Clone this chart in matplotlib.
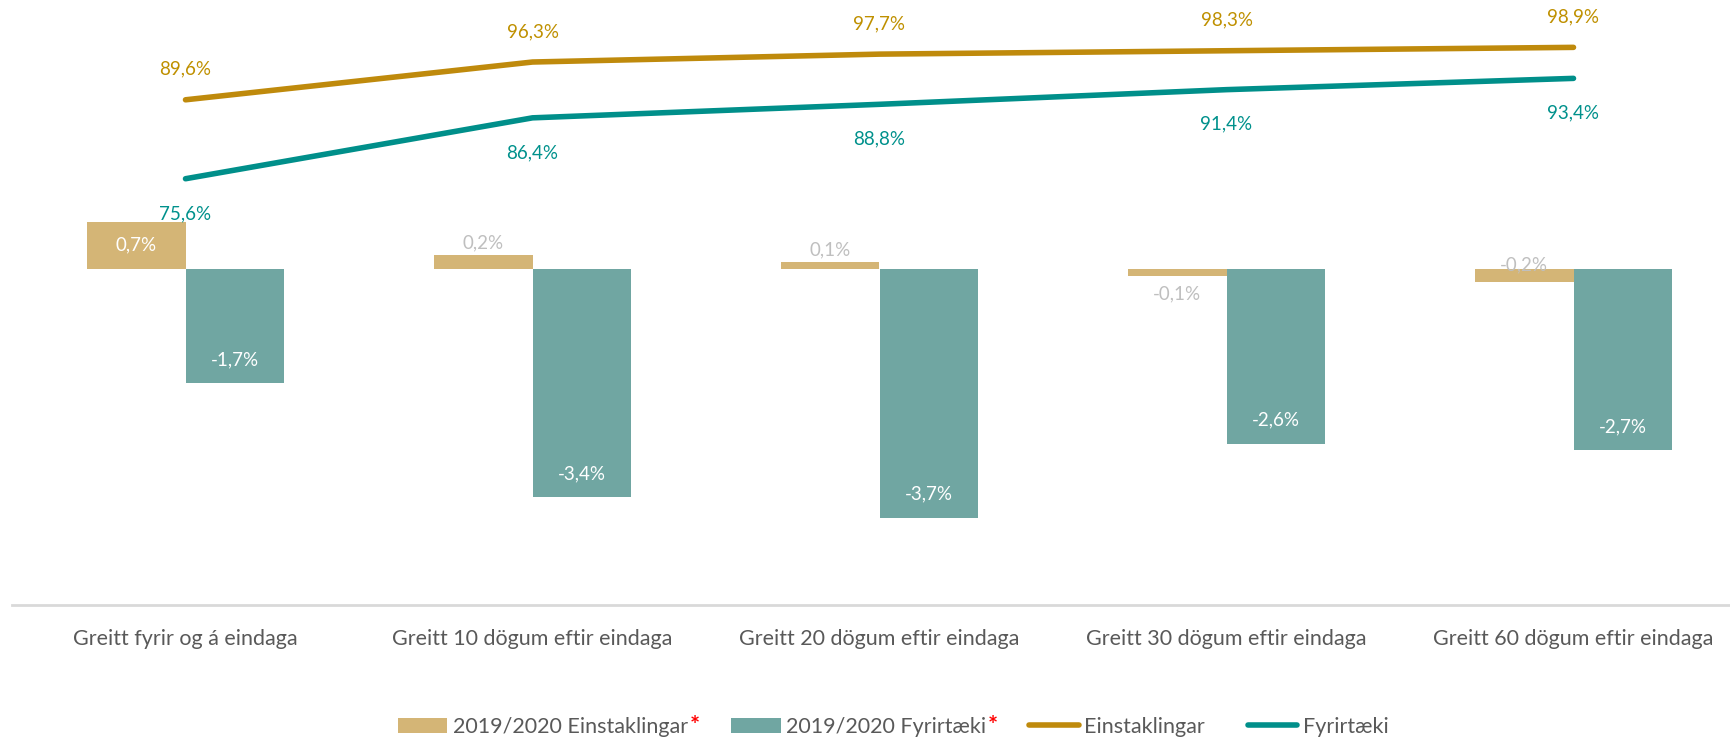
import numpy as np
import matplotlib
matplotlib.use('Agg')
import matplotlib.pyplot as plt

# data
categories = ['Greitt fyrir og á eindaga', 'Greitt 10 dögum eftir eindaga',
              'Greitt 20 dögum eftir eindaga', 'Greitt 30 dögum eftir eindaga',
              'Greitt 60 dögum eftir eindaga']
chg_einst = [0.007, 0.002, 0.001, -0.001, -0.002]
chg_fyrir = [-0.017, -0.034, -0.037, -0.026, -0.027]
einst = [0.896, 0.963, 0.977, 0.983, 0.989]
fyrir = [0.756, 0.864, 0.888, 0.914, 0.934]

bar_gold = '#D4B576'
bar_teal = '#70A6A2'
line_gold = '#BF8A0C'
line_teal = '#008F8A'
lab_gold = '#BF9000'
lab_teal = '#00918C'
grey_lab = '#BFBFBF'
txt = '#595959'

plt.rcParams['font.family'] = ['Lato', 'DejaVu Sans']

def pct(v):
    return f'{v*100:.1f}%'.replace('.', ',')

fig = plt.figure(figsize=(17.31, 7.38), dpi=100)
ax = fig.add_axes([12/1731, 133/738, 1735/1731, 605/738])
ax2 = ax.twinx()

x = np.arange(len(categories))
w = 0.285
ax.bar(x - w/2, chg_einst, width=w, color=bar_gold, label='2019/2020 Einstaklingar')
ax.bar(x + w/2, chg_fyrir, width=w, color=bar_teal, label='2019/2020 Fyrirtæki')
ax.set_ylim(-0.05, 0.04)
ax.set_xlim(-0.5, len(categories) - 0.5)

ax2.plot(x, einst, color=line_gold, lw=4, solid_capstyle='round', label='Einstaklingar')
ax2.plot(x, fyrir, color=line_teal, lw=4, solid_capstyle='round', label='Fyrirtæki')
ax2.set_ylim(0, 1.073)

for a in (ax, ax2):
    for s in ('top', 'left', 'right'):
        a.spines[s].set_visible(False)
    a.set_yticks([])
ax2.spines['bottom'].set_visible(False)
ax.spines['bottom'].set_color('#D9D9D9')
ax.spines['bottom'].set_linewidth(2)
ax.set_xticks(x)
ax.set_xticklabels(categories, fontsize=15.5, color=txt)
ax.tick_params(axis='x', length=0, pad=17)

fs = 13.5
# bar labels: gold
gold_off = [(0, 0), (0, 9), (0, 9), (0, -18), (0, 3)]
for i, v in enumerate(chg_einst):
    if i == 0:
        ax.text(x[i] - w/2, v/2, pct(v), ha='center', va='center', color='white', fontsize=fs)
    else:
        ax.annotate(pct(v), (x[i] - w/2, max(v, 0)), xytext=gold_off[i], textcoords='offset points',
                    ha='center', va='center', color=grey_lab, fontsize=fs)
for i, v in enumerate(chg_fyrir):
    ax.annotate(pct(v), (x[i] + w/2, v), xytext=(0, 17), textcoords='offset points',
                ha='center', va='center', color='white', fontsize=fs)

# line labels
for i, v in enumerate(einst):
    ax2.annotate(pct(v), (x[i], v), xytext=(0, 22), textcoords='offset points',
                 ha='center', va='center', color=lab_gold, fontsize=fs)
for i, v in enumerate(fyrir):
    ax2.annotate(pct(v), (x[i], v), xytext=(0, -25), textcoords='offset points',
                 ha='center', va='center', color=lab_teal, fontsize=fs)

h1, l1 = ax.get_legend_handles_labels()
h2, l2 = ax2.get_legend_handles_labels()
leg = fig.legend(h1 + h2, l1 + l2, loc='center', bbox_to_anchor=(0.516, 0.015), ncol=4,
                 frameon=False, fontsize=15.5, handlelength=2.3, handletextpad=0.25,
                 columnspacing=2.0, labelcolor=txt)

# red asterisks after the two bar entries
fig.canvas.draw()
r = fig.canvas.get_renderer()
for t in leg.get_texts()[:2]:
    bb = t.get_window_extent(r)
    fig.text((bb.x1 + 2) / fig.bbox.width, (bb.y0 + bb.y1) / 2 / fig.bbox.height, '*',
             color='red', fontsize=17, fontweight='bold', ha='left', va='center')

fig.savefig('out.png', dpi=100)
